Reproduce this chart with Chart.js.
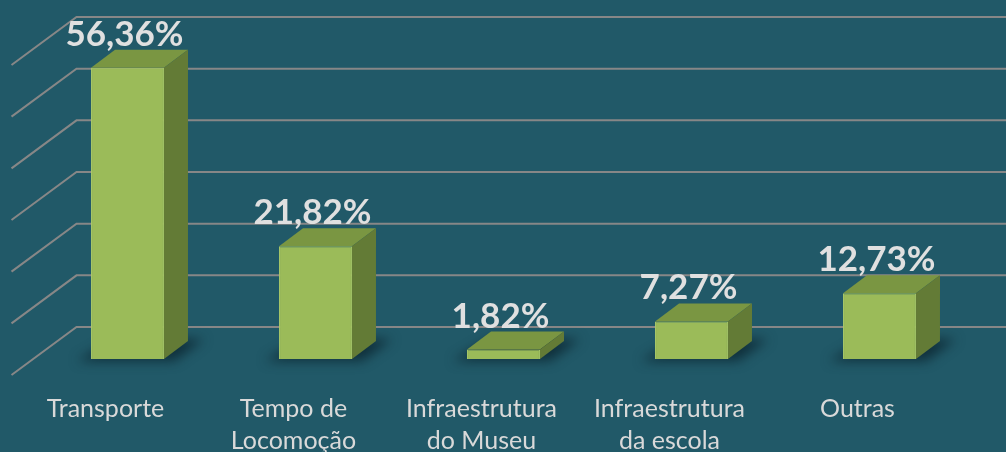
<!DOCTYPE html>
<html>
<head>
<meta charset="utf-8">
<script src="https://cdn.jsdelivr.net/npm/chart.js@4.4.0/dist/chart.umd.min.js"></script>
<style>
  html, body { margin: 0; padding: 0; background: #215968; }
  #grafico { display: block; }
</style>
</head>
<body>
<canvas id="grafico" width="1006" height="452"></canvas>
<script>
// DADOS : -----------------------------------------------------------

const categorias = [
  ['Transporte'],
  ['Tempo de', 'Locomoção'],
  ['Infraestrutura', 'do Museu'],
  ['Infraestrutura', 'da escola'],
  ['Outras']
];
const percentuais = [56.36, 21.82, 1.82, 7.27, 12.73];
const linhasGrade = [0, 10, 20, 30, 40, 50, 60];

// EFEITO 3D : -------------------------------------------------------

const PROF_X = 24, PROF_Y = 18;     // face de cima / lateral da barra
const FUNDO_X = 43, FUNDO_Y = 32;   // frente da barra -> parede do fundo
const FRENTE_X = 22, FRENTE_Y = 16; // frente da barra -> borda do chão

function formata(v) {
    return v.toFixed(2).replace('.', ',') + '%';
}

const grade3d = {
    id: 'grade3d',
    beforeDatasetsDraw(chart) {
        const ctx = chart.ctx;
        const y = chart.scales.y;
        const left = chart.chartArea.left;
        ctx.save();
        ctx.strokeStyle = '#878787';
        ctx.lineWidth = 2;
        linhasGrade.forEach(v => {
            const py = y.getPixelForValue(v);
            ctx.beginPath();
            ctx.moveTo(left - FRENTE_X, py + FRENTE_Y);
            ctx.lineTo(left + FUNDO_X, py - FUNDO_Y);
            ctx.lineTo(chart.width, py - FUNDO_Y);
            ctx.stroke();
        });

        // sombra no chão
        ctx.filter = 'blur(6px)';
        ctx.fillStyle = 'rgba(8, 30, 40, 0.7)';
        chart.getDatasetMeta(0).data.forEach(bar => {
            const l = bar.x - bar.width / 2, r = bar.x + bar.width / 2, b = bar.base;
            ctx.beginPath();
            ctx.moveTo(l - 14, b + 2);
            ctx.lineTo(r + 10, b + 2);
            ctx.lineTo(r + PROF_X + 16, b - PROF_Y - 2);
            ctx.lineTo(l + PROF_X, b - PROF_Y - 2);
            ctx.closePath();
            ctx.fill();
        });
        ctx.restore();
    },
    afterDatasetsDraw(chart) {
        const ctx = chart.ctx;
        ctx.save();
        chart.getDatasetMeta(0).data.forEach((bar, i) => {
            const l = bar.x - bar.width / 2, r = bar.x + bar.width / 2;
            const t = bar.y, b = bar.base;

            // face de cima
            ctx.fillStyle = '#7a9642';
            ctx.beginPath();
            ctx.moveTo(l, t);
            ctx.lineTo(r, t);
            ctx.lineTo(r + PROF_X, t - PROF_Y);
            ctx.lineTo(l + PROF_X, t - PROF_Y);
            ctx.closePath();
            ctx.fill();

            // lateral
            ctx.fillStyle = '#637b36';
            ctx.beginPath();
            ctx.moveTo(r, t);
            ctx.lineTo(r + PROF_X, t - PROF_Y);
            ctx.lineTo(r + PROF_X, b - PROF_Y);
            ctx.lineTo(r, b);
            ctx.closePath();
            ctx.fill();

            // rótulo
            ctx.font = 'bold 35px Lato';
            ctx.fillStyle = '#e0e0e0';
            ctx.textAlign = 'center';
            ctx.textBaseline = 'alphabetic';
            ctx.fillText(formata(percentuais[i]), bar.x - 3, t - 22);
        });
        ctx.restore();
    }
};

// O GRÁFICO : -------------------------------------------------------

new Chart(document.getElementById('grafico'), {
    type: 'bar',
    data: {
        labels: categorias,
        datasets: [{
            data: percentuais,
            backgroundColor: '#9bbb59',
            borderColor: '#a9c968',
            borderWidth: 1,
            barPercentage: 0.388,
            categoryPercentage: 1
        }]
    },
    options: {
        responsive: false,
        animation: false,
        layout: { padding: { left: 33.5, right: 32.5, top: 49, bottom: 0 } },
        plugins: {
            legend: { display: false },
            tooltip: { enabled: false }
        },
        scales: {
            x: {
                grid: { display: false, drawTicks: false },
                border: { display: false },
                ticks: {
                    color: '#d9d9d9',
                    font: { family: 'Lato', size: 25, lineHeight: 1.28 },
                    padding: 34,
                    labelOffset: -22,
                    maxRotation: 0,
                    autoSkip: false
                },
                afterFit: (eixo) => { eixo.height = 93; }
            },
            y: {
                display: false,
                min: 0,
                max: 60
            }
        }
    },
    plugins: [grade3d]
});
</script>
</body>
</html>
